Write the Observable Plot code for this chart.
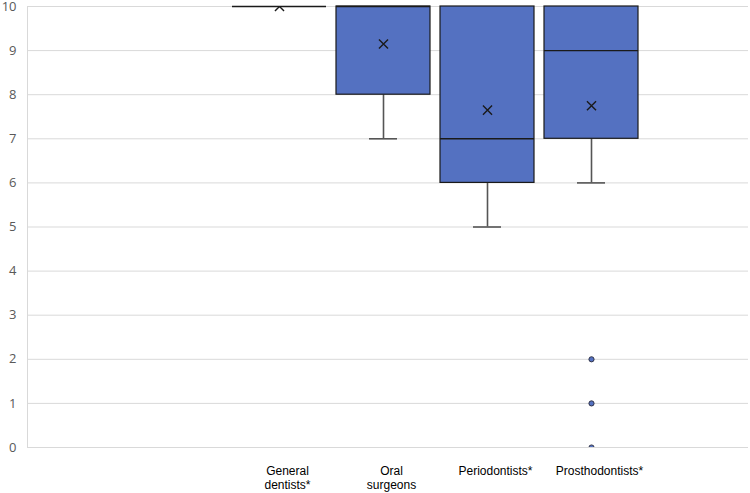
<!DOCTYPE html>
<html>
<head>
<meta charset="utf-8">
<script src="https://cdn.jsdelivr.net/npm/d3@7"></script>
<script src="https://cdn.jsdelivr.net/npm/@observablehq/plot@0.6"></script>
<style>
  html, body { margin: 0; padding: 0; background: #fff; }
  #chart svg { display: block; }
</style>
</head>
<body>
<div id="chart"></div>
<script>
// Category slots (empty slots carry no data)
const slots = ["s1", "s2", "General dentists*", "Oral surgeons", "Periodontists*", "Prosthodontists*", "s3"];
const categories = ["General dentists*", "Oral surgeons", "Periodontists*", "Prosthodontists*"];
const tickLabels = ["General\ndentists*", "Oral\nsurgeons", "Periodontists*", "Prosthodontists*"];

// Box statistics
const q1     = [10, 8, 6, 7];
const median = [10, 10, 7, 9];
const q3     = [10, 10, 10, 10];
const lowW   = [10, 7, 5, 6];
const highW  = [10, 10, 10, 10];
const mean   = [10, 9.15, 7.65, 7.75];

// Outliers
const outlierCat = ["Prosthodontists*", "Prosthodontists*", "Prosthodontists*"];
const outlierVal = [2, 1, 0];

const yTicks = [0, 1, 2, 3, 4, 5, 6, 7, 8, 9, 10];

const boxes = categories.map((c, i) => ({
  cat: c, q1: q1[i], med: median[i], q3: q3[i], lo: lowW[i], hi: highW[i], mean: mean[i]
}));
const outliers = outlierCat.map((c, i) => ({cat: c, v: outlierVal[i]}));
const labelMap = new Map(categories.map((c, i) => [c, tickLabels[i]]));

const fill = "#5471C1";
const whisker = "#555555";

const chart = Plot.plot({
  width: 750,
  height: 493,
  marginLeft: 27,
  marginRight: 2,
  marginTop: 6,
  marginBottom: 46,
  style: {background: "#fff"},
  x: {domain: slots, range: [19, 747], paddingInner: 0.096, paddingOuter: 0.048, label: null},
  y: {domain: [0, 10], label: null},
  marks: [
    Plot.ruleY(yTicks, {stroke: "#d9d9d9", strokeWidth: 1}),
    Plot.frame({anchor: "left", stroke: "#d9d9d9"}),
    Plot.axisY({ticks: yTicks, tickSize: 0, tickPadding: 11, fontSize: 13, fontFamily: "Open Sans", fill: "#595959", label: null}),
    Plot.axisX({
      ticks: categories, tickSize: 0, tickPadding: 18, dx: 8, fontSize: 12,
      fontFamily: "Liberation Sans, Arial", fill: "#000", lineHeight: 1.15,
      tickFormat: d => labelMap.get(d) ?? "", label: null
    }),
    // lower whiskers
    Plot.ruleX(boxes.filter(d => d.lo < d.q1), {x: "cat", y1: "lo", y2: "q1", stroke: whisker, strokeWidth: 1.6}),
    Plot.tickY(boxes.filter(d => d.lo < d.q1), {x: "cat", y: "lo", stroke: whisker, strokeWidth: 1.6, insetLeft: 33, insetRight: 33}),
    // upper whiskers
    Plot.ruleX(boxes.filter(d => d.hi > d.q3), {x: "cat", y1: "q3", y2: "hi", stroke: whisker, strokeWidth: 1.6}),
    Plot.tickY(boxes.filter(d => d.hi > d.q3), {x: "cat", y: "hi", stroke: whisker, strokeWidth: 1.6, insetLeft: 33, insetRight: 33}),
    // boxes
    Plot.barY(boxes.filter(d => d.q3 > d.q1), {x: "cat", y1: "q1", y2: "q3", fill, stroke: "#1a1a1a", strokeWidth: 1.2}),
    // medians
    Plot.tickY(boxes, {x: "cat", y: "med", stroke: "#1a1a1a", strokeWidth: 1.4}),
    // means
    Plot.dot(boxes, {x: "cat", y: "mean", symbol: "times", r: 4.2, stroke: "#1a1a1a", strokeWidth: 1.4, clip: true}),
    // outliers
    Plot.dot(outliers, {x: "cat", y: "v", r: 2.6, fill, stroke: "#2a2a3a", strokeWidth: 0.9, clip: true})
  ]
});
document.getElementById("chart").appendChild(chart);
</script>
</body>
</html>
